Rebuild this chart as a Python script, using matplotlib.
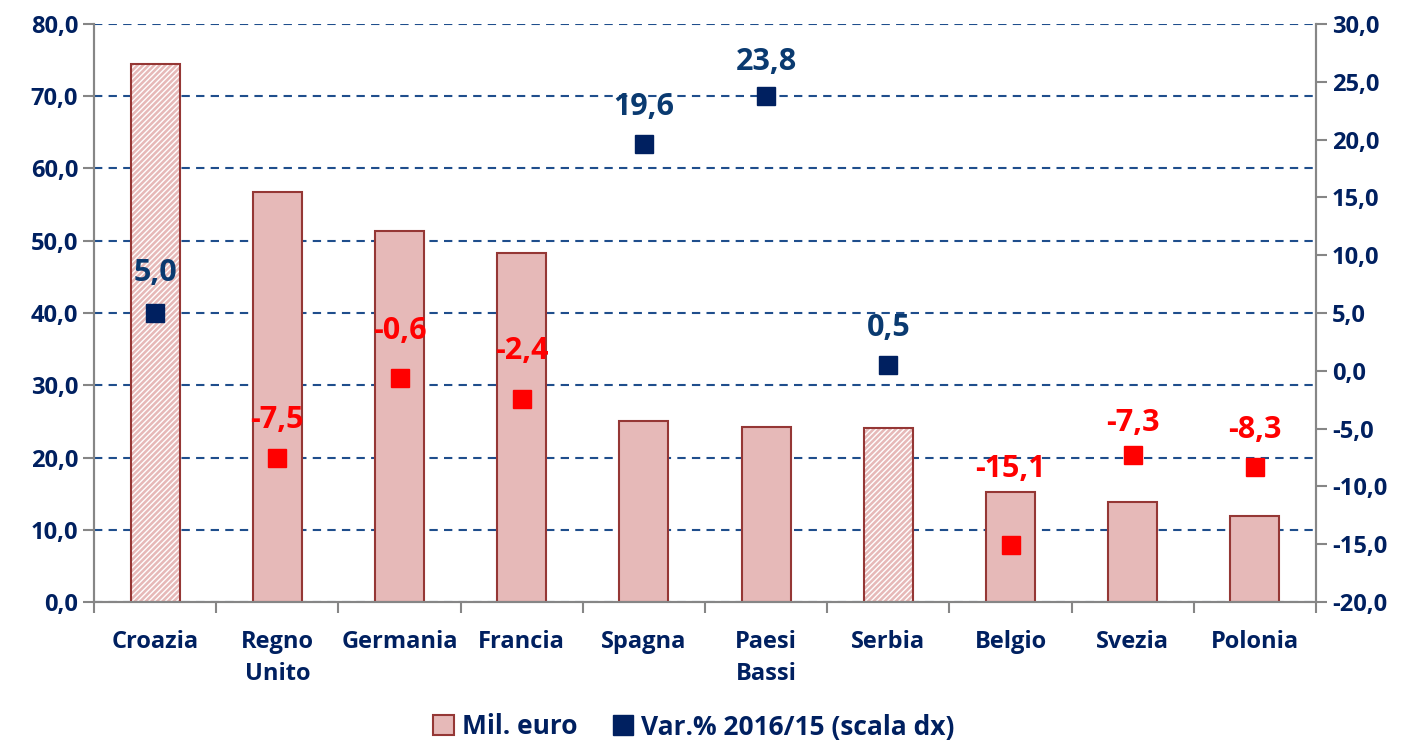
import matplotlib.pyplot as plt
import numpy as np

# dati
paesi = ['Croazia', 'Regno\nUnito', 'Germania', 'Francia', 'Spagna',
         'Paesi\nBassi', 'Serbia', 'Belgio', 'Svezia', 'Polonia']
mil_euro = [74.5, 56.7, 51.3, 48.3, 25.0, 24.2, 24.1, 15.2, 13.8, 11.9]
var_perc = [5.0, -7.5, -0.6, -2.4, 19.6, 23.8, 0.5, -15.1, -7.3, -8.3]
tratteggiati = ['Croazia', 'Serbia']

# distanza etichetta-marcatore (px), dove diversa dal default
dist_etichette = {'Croazia': 40, 'Germania': 47, 'Francia': 48,
                  'Paesi\nBassi': 34, 'Belgio': 76, 'Svezia': 32}

navy = '#002060'
blu_etichette = '#0A3A70'
rosso = '#FF0000'
rosa = '#E6B9B8'
bordo = '#953735'
grigio = '#868686'

plt.rcParams['font.family'] = ['Open Sans', 'DejaVu Sans']
plt.rcParams['font.weight'] = 'bold'

fig = plt.figure(figsize=(14.08, 7.42), dpi=100)
ax = fig.add_axes([94 / 1408, 1 - 602 / 742, (1316 - 94) / 1408, (602 - 24) / 742])
ax2 = ax.twinx()

x = np.arange(len(paesi))
w = 0.4
for i, (p, v) in enumerate(zip(paesi, mil_euro)):
    if p in tratteggiati:
        ax.bar(x[i], v, w, color=rosa, edgecolor='white', hatch='//////',
               linewidth=0, zorder=2)
        ax.bar(x[i], v, w, fill=False, edgecolor=bordo, linewidth=1.5, zorder=3)
    else:
        ax.bar(x[i], v, w, color=rosa, edgecolor=bordo, linewidth=1.5, zorder=2)

ax.set_xlim(-0.5, len(paesi) - 0.5)
ax.set_ylim(0, 80)
ax.set_yticks(np.arange(0, 81, 10))
ax.set_yticklabels([f'{t:.1f}'.replace('.', ',') for t in np.arange(0, 81, 10)])
ax.yaxis.grid(True, linestyle=(0, (4, 3)), color='#1F4E8C', linewidth=1.5)
ax.set_axisbelow(True)

ax.set_xticks(x)
ax.set_xticklabels(paesi, fontsize=17, color=navy, fontweight='bold', linespacing=1.45)
ax.set_xticks(np.arange(-0.5, len(paesi)), minor=True)
ax.tick_params(axis='x', which='major', length=0, pad=20)
ax.tick_params(axis='x', which='minor', length=8, color=grigio, width=1.5)
ax.tick_params(axis='y', length=8, color=grigio, width=1.5, labelsize=17,
               labelcolor=navy)

# scala destra
ax2.set_ylim(-20, 30)
ax2.set_yticks(np.arange(-20, 31, 5))
ax2.set_yticklabels([f'{t:.1f}'.replace('.', ',') for t in np.arange(-20, 31, 5)])
ax2.tick_params(axis='y', length=8, color=grigio, width=1.5, labelsize=17,
                labelcolor=navy)

for a in (ax, ax2):
    for s in a.spines.values():
        s.set_visible(False)
    for lato in ('left', 'right', 'bottom'):
        a.spines[lato].set_visible(True)
        a.spines[lato].set_color(grigio)
        a.spines[lato].set_linewidth(1.5)

for i, v in enumerate(var_perc):
    c_m = navy if v >= 0 else rosso
    c_t = blu_etichette if v >= 0 else rosso
    d = dist_etichette.get(paesi[i], 37)
    ax2.plot(x[i], v, 's', color=c_m, markersize=13, zorder=5)
    ax2.annotate(f'{v:.1f}'.replace('.', ','), (x[i], v), xytext=(0, d * 0.72),
                 textcoords='offset points', ha='center', va='center',
                 color=c_t, fontsize=22, fontweight='bold')

# legenda
h1 = plt.Rectangle((0, 0), 1, 1, facecolor=rosa, edgecolor=bordo, linewidth=1.5)
h2 = plt.Line2D([], [], marker='s', color=navy, linestyle='none', markersize=15)
fig.legend([h1, h2], ['Mil. euro', 'Var.% 2016/15 (scala dx)'],
           loc='center', bbox_to_anchor=(0.5 - 10 / 1408, 1 - 727 / 742), ncol=2,
           frameon=False, fontsize=19, labelcolor=navy, handlelength=0.8,
           handleheight=0.8, handletextpad=0.3, columnspacing=1.3)

plt.savefig('out.png', dpi=100)
